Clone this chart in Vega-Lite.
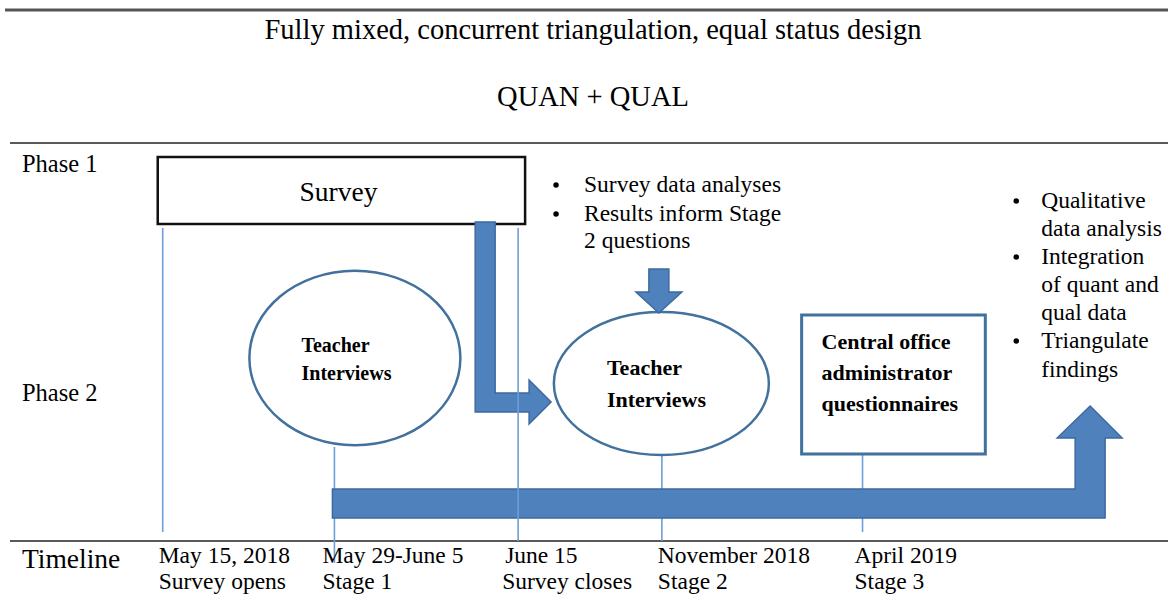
{
  "$schema": "https://vega.github.io/schema/vega-lite/v6.json",
  "width": 1170,
  "height": 602,
  "autosize": {"type": "fit", "contains": "padding"},
  "padding": 0,
  "background": "white",
  "config": {"view": {"stroke": null}},
  "layer": [
    {
      "data": {"values": [{"x": 5, "x2": 1170, "y": 10}]},
      "mark": {"type": "rule", "color": "#555555", "strokeWidth": 3},
      "encoding": {
        "x": {"field": "x", "type": "quantitative", "scale": {"domain": [0, 1170], "nice": false, "zero": false}, "axis": null},
        "x2": {"field": "x2"},
        "y": {"field": "y", "type": "quantitative", "scale": {"domain": [0, 602], "nice": false, "zero": false, "reverse": true}, "axis": null}
      }
    },
    {
      "data": {"values": [{"x": 10, "x2": 1170, "y": 143}, {"x": 10, "x2": 1170, "y": 541}]},
      "mark": {"type": "rule", "color": "#222222", "strokeWidth": 1.6},
      "encoding": {
        "x": {"field": "x", "type": "quantitative", "axis": null},
        "x2": {"field": "x2"},
        "y": {"field": "y", "type": "quantitative", "axis": null}
      }
    },
    {
      "data": {"values": [
        {"x": 163, "y": 228, "y2": 532},
        {"x": 335, "y": 447, "y2": 563},
        {"x": 663, "y": 455, "y2": 541},
        {"x": 864, "y": 455, "y2": 532}
      ]},
      "mark": {"type": "rule", "color": "#6d9fd8", "strokeWidth": 1.6},
      "encoding": {
        "x": {"field": "x", "type": "quantitative", "axis": null},
        "y": {"field": "y", "type": "quantitative", "axis": null},
        "y2": {"field": "y2"}
      }
    },
    {
      "data": {"values": [{"label": "Survey", "x": 158, "x2": 526, "y": 157, "y2": 224}]},
      "mark": {"type": "rect", "fill": "white", "stroke": "#111111", "strokeWidth": 2.5},
      "encoding": {
        "x": {"field": "x", "type": "quantitative", "axis": null},
        "x2": {"field": "x2"},
        "y": {"field": "y", "type": "quantitative", "axis": null},
        "y2": {"field": "y2"}
      }
    },
    {
      "data": {"values": [{"label": "Central office", "x": 803, "x2": 987, "y": 315, "y2": 454}]},
      "mark": {"type": "rect", "fill": "white", "stroke": "#41719c", "strokeWidth": 3},
      "encoding": {
        "x": {"field": "x", "type": "quantitative", "axis": null},
        "x2": {"field": "x2"},
        "y": {"field": "y", "type": "quantitative", "axis": null},
        "y2": {"field": "y2"}
      }
    },
    {
      "data": {"values": [{"label": "Teacher Interviews 1", "x": 355.5, "y": 358, "r": 105.5}]},
      "mark": {"type": "point", "filled": true, "fill": "white", "stroke": "#41719c", "strokeWidth": 2.5, "opacity": 1,
        "shape": "M-1,0C-1,-0.457,-0.552,-0.827,0,-0.827C0.552,-0.827,1,-0.457,1,0C1,0.457,0.552,0.827,0,0.827C-0.552,0.827,-1,0.457,-1,0Z"},
      "encoding": {
        "x": {"field": "x", "type": "quantitative", "axis": null},
        "y": {"field": "y", "type": "quantitative", "axis": null},
        "size": {"field": "r", "type": "quantitative", "legend": null, "scale": {"type": "pow", "exponent": 2, "domain": [0, 100], "range": [0, 40000]}}
      }
    },
    {
      "data": {"values": [{"label": "Teacher Interviews 2", "x": 662.5, "y": 383.5, "r": 107.5}]},
      "mark": {"type": "point", "filled": true, "fill": "white", "stroke": "#41719c", "strokeWidth": 2.5, "opacity": 1,
        "shape": "M-1,0C-1,-0.367,-0.552,-0.665,0,-0.665C0.552,-0.665,1,-0.367,1,0C1,0.367,0.552,0.665,0,0.665C-0.552,0.665,-1,0.367,-1,0Z"},
      "encoding": {
        "x": {"field": "x", "type": "quantitative", "axis": null},
        "y": {"field": "y", "type": "quantitative", "axis": null},
        "size": {"field": "r", "type": "quantitative", "legend": null}
      }
    },
    {
      "data": {"values": [
        {"arrow": "L", "i": 0, "x": 476, "y": 222},
        {"arrow": "L", "i": 1, "x": 496, "y": 222},
        {"arrow": "L", "i": 2, "x": 496, "y": 393},
        {"arrow": "L", "i": 3, "x": 530, "y": 393},
        {"arrow": "L", "i": 4, "x": 530, "y": 380},
        {"arrow": "L", "i": 5, "x": 552, "y": 402},
        {"arrow": "L", "i": 6, "x": 530, "y": 424},
        {"arrow": "L", "i": 7, "x": 530, "y": 412},
        {"arrow": "L", "i": 8, "x": 476, "y": 412},
        {"arrow": "down", "i": 0, "x": 650, "y": 269},
        {"arrow": "down", "i": 1, "x": 670, "y": 269},
        {"arrow": "down", "i": 2, "x": 670, "y": 292},
        {"arrow": "down", "i": 3, "x": 683, "y": 292},
        {"arrow": "down", "i": 4, "x": 660, "y": 313},
        {"arrow": "down", "i": 5, "x": 637, "y": 292},
        {"arrow": "down", "i": 6, "x": 650, "y": 292},
        {"arrow": "big", "i": 0, "x": 333, "y": 489},
        {"arrow": "big", "i": 1, "x": 1077, "y": 489},
        {"arrow": "big", "i": 2, "x": 1077, "y": 438},
        {"arrow": "big", "i": 3, "x": 1059, "y": 438},
        {"arrow": "big", "i": 4, "x": 1092, "y": 406},
        {"arrow": "big", "i": 5, "x": 1124, "y": 438},
        {"arrow": "big", "i": 6, "x": 1107, "y": 438},
        {"arrow": "big", "i": 7, "x": 1107, "y": 518},
        {"arrow": "big", "i": 8, "x": 333, "y": 518}
      ]},
      "mark": {"type": "line", "interpolate": "linear-closed", "fill": "#4f81bd", "stroke": "#3c6a9f", "strokeWidth": 1.5, "strokeJoin": "miter"},
      "encoding": {
        "x": {"field": "x", "type": "quantitative", "axis": null},
        "y": {"field": "y", "type": "quantitative", "axis": null},
        "detail": {"field": "arrow", "type": "nominal"},
        "order": {"field": "i", "type": "quantitative"}
      }
    },
    {
      "data": {"values": [{"x": 519, "y": 228, "y2": 541}]},
      "mark": {"type": "rule", "color": "#6d9fd8", "strokeWidth": 1.6},
      "encoding": {
        "x": {"field": "x", "type": "quantitative", "axis": null},
        "y": {"field": "y", "type": "quantitative", "axis": null},
        "y2": {"field": "y2"}
      }
    },
    {
      "data": {"values": [
        {"item": "Survey data analyses", "x": 557, "y": 185},
        {"item": "Results inform Stage 2 questions", "x": 557, "y": 214},
        {"item": "Qualitative data analysis", "x": 1018, "y": 201},
        {"item": "Integration of quant and qual data", "x": 1018, "y": 257},
        {"item": "Triangulate findings", "x": 1018, "y": 341}
      ]},
      "mark": {"type": "point", "shape": "circle", "filled": true, "color": "#000000", "opacity": 1, "size": 30},
      "encoding": {
        "x": {"field": "x", "type": "quantitative", "axis": null},
        "y": {"field": "y", "type": "quantitative", "axis": null}
      }
    },
    {
      "data": {"values": [
        {"t": "Fully mixed, concurrent triangulation, equal status design", "x": 594, "y": 39},
        {"t": "QUAN + QUAL", "x": 594, "y": 106}
      ]},
      "mark": {"type": "text", "font": "Liberation Serif", "fontSize": 28.5, "align": "center", "baseline": "alphabetic", "color": "#000000"},
      "encoding": {
        "x": {"field": "x", "type": "quantitative", "axis": null},
        "y": {"field": "y", "type": "quantitative", "axis": null},
        "text": {"field": "t"}
      }
    },
    {
      "data": {"values": [
        {"t": "Phase 1", "x": 22, "y": 172},
        {"t": "Phase 2", "x": 22, "y": 401}
      ]},
      "mark": {"type": "text", "font": "Liberation Serif", "fontSize": 24.5, "align": "left", "baseline": "alphabetic", "color": "#000000"},
      "encoding": {
        "x": {"field": "x", "type": "quantitative", "axis": null},
        "y": {"field": "y", "type": "quantitative", "axis": null},
        "text": {"field": "t"}
      }
    },
    {
      "data": {"values": [{"t": "Timeline", "x": 22, "y": 568}]},
      "mark": {"type": "text", "font": "Liberation Serif", "fontSize": 27.5, "align": "left", "baseline": "alphabetic", "color": "#000000"},
      "encoding": {
        "x": {"field": "x", "type": "quantitative", "axis": null},
        "y": {"field": "y", "type": "quantitative", "axis": null},
        "text": {"field": "t"}
      }
    },
    {
      "data": {"values": [{"t": "Survey", "x": 339, "y": 201}]},
      "mark": {"type": "text", "font": "Liberation Serif", "fontSize": 27.5, "align": "center", "baseline": "alphabetic", "color": "#000000"},
      "encoding": {
        "x": {"field": "x", "type": "quantitative", "axis": null},
        "y": {"field": "y", "type": "quantitative", "axis": null},
        "text": {"field": "t"}
      }
    },
    {
      "data": {"values": [
        {"t": "Survey data analyses", "x": 585, "y": 192},
        {"t": "Results inform Stage", "x": 585, "y": 221},
        {"t": "2 questions", "x": 585, "y": 248},
        {"t": "Qualitative", "x": 1043, "y": 208},
        {"t": "data analysis", "x": 1043, "y": 236},
        {"t": "Integration", "x": 1043, "y": 264},
        {"t": "of quant and", "x": 1043, "y": 292},
        {"t": "qual data", "x": 1043, "y": 320},
        {"t": "Triangulate", "x": 1043, "y": 348},
        {"t": "findings", "x": 1043, "y": 377},
        {"t": "May 15, 2018", "x": 159, "y": 563},
        {"t": "Survey opens", "x": 159, "y": 589},
        {"t": "May 29-June 5", "x": 323, "y": 563},
        {"t": "Stage 1", "x": 323, "y": 589},
        {"t": "June 15", "x": 506, "y": 563},
        {"t": "Survey closes", "x": 503, "y": 589},
        {"t": "November 2018", "x": 659, "y": 563},
        {"t": "Stage 2", "x": 659, "y": 589},
        {"t": "April 2019", "x": 856, "y": 563},
        {"t": "Stage 3", "x": 856, "y": 589}
      ]},
      "mark": {"type": "text", "font": "Liberation Serif", "fontSize": 23.5, "align": "left", "baseline": "alphabetic", "color": "#000000"},
      "encoding": {
        "x": {"field": "x", "type": "quantitative", "axis": null},
        "y": {"field": "y", "type": "quantitative", "axis": null},
        "text": {"field": "t"}
      }
    },
    {
      "data": {"values": [
        {"t": "Teacher", "x": 302, "y": 352},
        {"t": "Interviews", "x": 302, "y": 380}
      ]},
      "mark": {"type": "text", "font": "Liberation Serif", "fontSize": 20, "fontWeight": "bold", "align": "left", "baseline": "alphabetic", "color": "#000000"},
      "encoding": {
        "x": {"field": "x", "type": "quantitative", "axis": null},
        "y": {"field": "y", "type": "quantitative", "axis": null},
        "text": {"field": "t"}
      }
    },
    {
      "data": {"values": [
        {"t": "Teacher", "x": 608, "y": 375},
        {"t": "Interviews", "x": 608, "y": 407},
        {"t": "Central office", "x": 823, "y": 349},
        {"t": "administrator", "x": 823, "y": 380},
        {"t": "questionnaires", "x": 823, "y": 411}
      ]},
      "mark": {"type": "text", "font": "Liberation Serif", "fontSize": 22, "fontWeight": "bold", "align": "left", "baseline": "alphabetic", "color": "#000000"},
      "encoding": {
        "x": {"field": "x", "type": "quantitative", "axis": null},
        "y": {"field": "y", "type": "quantitative", "axis": null},
        "text": {"field": "t"}
      }
    }
  ]
}
